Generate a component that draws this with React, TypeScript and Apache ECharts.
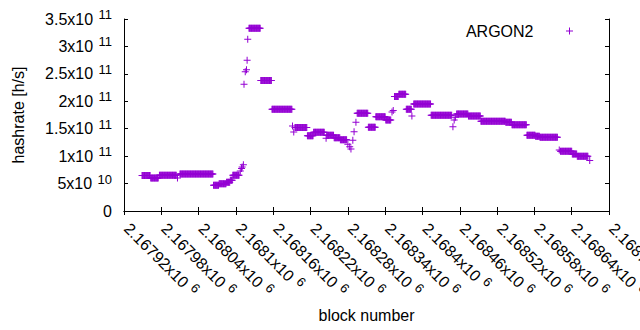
import { useEffect, useRef } from 'react';
import * as echarts from 'echarts';

// Runs of consecutive blocks sharing the same hashrate value
const runStart = [
  2167949, 2167963, 2167977, 2168010, 2168064, 2168073, 2168085, 2168091, 2168095,
  2168121, 2168140, 2168158, 2168195, 2168215, 2168225, 2168246, 2168258, 2168268,
  2168295, 2168313, 2168325, 2168341, 2168355, 2168362, 2168374, 2168386, 2168414,
  2168455, 2168474, 2168494, 2168534, 2168544, 2168568, 2168582, 2168589, 2168622,
  2168641, 2168649,
];
const runEnd = [
  2167962, 2167975, 2168004, 2168063, 2168072, 2168084, 2168090, 2168094, 2168105,
  2168139, 2168157, 2168190, 2168214, 2168224, 2168242, 2168257, 2168267, 2168278,
  2168312, 2168324, 2168340, 2168349, 2168361, 2168373, 2168382, 2168413, 2168447,
  2168473, 2168493, 2168533, 2168543, 2168567, 2168581, 2168588, 2168617, 2168640,
  2168648, 2168666,
];
const runValue = [
  6.47e10, 6.0e10, 6.5e10, 6.74e10, 4.69e10, 4.98e10, 5.23e10, 5.6e10, 6.5e10,
  3.33e11, 2.38e11, 1.854e11, 1.52e11, 1.373e11, 1.435e11, 1.38e11, 1.336e11, 1.30e11,
  1.78e11, 1.526e11, 1.72e11, 1.66e11, 2.087e11, 2.127e11, 1.854e11, 1.95e11, 1.745e11,
  1.768e11, 1.73e11, 1.635e11, 1.617e11, 1.573e11, 1.38e11, 1.362e11, 1.343e11, 1.088e11,
  1.039e11, 9.97e10,
];
// Isolated points (transitions)
const pointBlock = [
  2168006, 2168107, 2168109, 2168110, 2168112, 2168113, 2168115, 2168117, 2168118,
  2168119, 2168191, 2168193, 2168245, 2168280, 2168283, 2168285, 2168288, 2168290,
  2168293, 2168351, 2168353, 2168383, 2168449, 2168451, 2168453, 2168620, 2168669,
];
const pointValue = [
  6.0e10, 7.29e10, 7.75e10, 8.0e10, 8.44e10, 2.31e11, 2.54e11, 2.576e11, 2.747e11,
  3.13e11, 1.55e11, 1.44e11, 1.325e11, 1.216e11, 1.172e11, 1.13e11, 1.289e11, 1.446e11,
  1.617e11, 1.805e11, 1.83e11, 1.732e11, 1.537e11, 1.659e11, 1.708e11, 1.112e11, 9.2e10,
];

const xMin = 2167920;
const xMax = 2168700;
const xStep = 60;
const yMin = 0;
const yMax = 3.5e11;
const yStep = 5e10;

const seriesName = 'ARGON2';
const xTitle = 'block number';
const yTitle = 'hashrate [h/s]';

const COLOR = '#9400d3';
const FONT = 'Liberation Sans, Arial, sans-serif';
const PLUS = 'path://M3,0h1v3h3v1h-3v3h-1v-3h-3v-1h3z';

function buildData(): [number, number][] {
  const pts: [number, number][] = [];
  runStart.forEach((s, i) => {
    for (let b = s; b <= runEnd[i]; b++) pts.push([b, runValue[i]]);
  });
  pointBlock.forEach((b, i) => pts.push([b, pointValue[i]]));
  pts.sort((a, b) => a[0] - b[0]);
  return pts;
}

function yFmt(v: number): string {
  if (v === 0) return '{m|0}';
  const exp = Math.floor(Math.log10(v) + 1e-9);
  const mant = +(v / Math.pow(10, exp)).toFixed(3);
  return `{m|${mant}x10 }{s|${exp}}`;
}

function xFmt(v: number): string {
  return `{m|${+(v / 1e6).toFixed(5)}x10 }{s|6}`;
}

const rich = {
  m: { fontSize: 16, lineHeight: 22, color: '#000', fontFamily: FONT },
  s: { fontSize: 13, lineHeight: 13, verticalAlign: 'top', color: '#000', fontFamily: FONT, padding: [0, 0, 0, 1] },
};

export default function App() {
  const ref = useRef<HTMLDivElement>(null);
  useEffect(() => {
    if (!ref.current) return;
    const chart = echarts.init(ref.current, undefined, { renderer: 'svg' });
    const axisLine = { show: true, lineStyle: { color: '#000', width: 1 } };
    const axisTick = { show: true, inside: true, length: 4, lineStyle: { color: '#000', width: 1 } };
    chart.setOption({
      animation: false,
      backgroundColor: '#fff',
      textStyle: { fontFamily: FONT },
      grid: { left: 124, right: 31, top: 19, bottom: 119, containLabel: false, outerBoundsMode: 'none' },
      legend: {
        data: [{ name: seriesName, icon: PLUS }],
        align: 'right',
        right: 67,
        top: 23,
        padding: 0,
        itemWidth: 62,
        itemHeight: 7,
        selectedMode: false,
        textStyle: { fontSize: 16, color: '#000', fontFamily: FONT },
      },
      xAxis: [
        {
          type: 'value', position: 'bottom', min: xMin, max: xMax, interval: xStep,
          name: xTitle, nameLocation: 'middle', nameGap: 96,
          nameTextStyle: { fontSize: 16, color: '#000', fontFamily: FONT },
          axisLine, axisTick, splitLine: { show: false },
          axisLabel: {
            show: true, rotate: -45, interval: 0, margin: 12, padding: [0, 0, 0, 4],
            formatter: xFmt, rich, showMinLabel: true, showMaxLabel: true,
          },
        },
        {
          type: 'value', position: 'top', min: xMin, max: xMax, interval: xStep,
          axisLine, axisTick, splitLine: { show: false }, axisLabel: { show: false },
        },
      ],
      yAxis: [
        {
          type: 'value', position: 'left', min: yMin, max: yMax, interval: yStep,
          name: yTitle, nameLocation: 'middle', nameGap: 98,
          nameTextStyle: { fontSize: 16, color: '#000', fontFamily: FONT },
          axisLine, axisTick, splitLine: { show: false },
          axisLabel: { show: true, margin: 12, formatter: yFmt, rich },
        },
        {
          type: 'value', position: 'right', min: yMin, max: yMax, interval: yStep,
          axisLine, axisTick, splitLine: { show: false }, axisLabel: { show: false },
        },
      ],
      series: [
        {
          name: seriesName,
          type: 'scatter',
          xAxisIndex: 0,
          yAxisIndex: 0,
          symbol: PLUS,
          symbolSize: 7,
          itemStyle: { color: COLOR, opacity: 1 },
          emphasis: { disabled: true },
          data: buildData(),
        },
      ],
    });
    return () => chart.dispose();
  }, []);
  return (
    <div
      ref={ref}
      style={{ position: 'fixed', left: 0, top: 0, width: 640, height: 330, background: '#fff' }}
    />
  );
}
